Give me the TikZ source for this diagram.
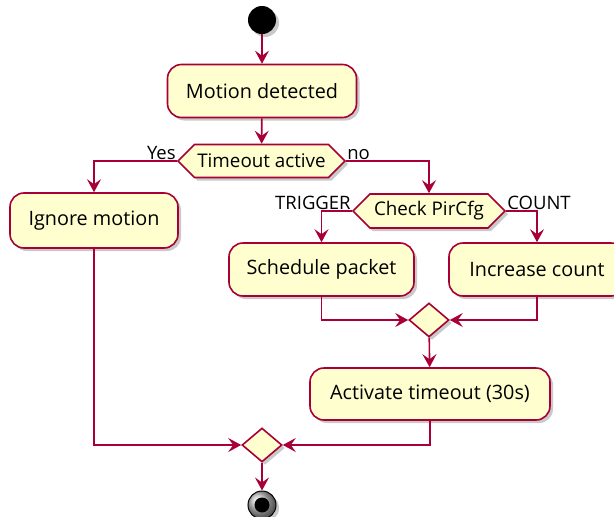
\documentclass[tikz,border=0pt]{standalone}
\usepackage{fontspec}
\setmainfont{Open Sans}
\usetikzlibrary{shapes.symbols,shapes.geometric,arrows.meta,shadows}
\definecolor{pfill}{HTML}{FEFECE}
\definecolor{pline}{HTML}{A80036}
\begin{document}
\begin{tikzpicture}[x=1pt,y=-1pt,
  shadowed/.style={drop shadow={shadow xshift=3pt,shadow yshift=-3pt,opacity=0.3,fill=black!70}},
  act/.style={draw=pline,fill=pfill,line width=1.6pt,rounded corners=14pt,
    font=\fontsize{19.8}{22}\selectfont,shadowed,inner sep=0pt,minimum height=53pt},
  dec/.style={signal,signal to=west and east,signal pointer angle=90,draw=pline,fill=pfill,
    line width=1.6pt,font=\fontsize{18.8}{21}\selectfont,shadowed,inner sep=0pt},
  merge/.style={diamond,draw=pline,fill=pfill,line width=1.6pt,minimum width=40pt,
    minimum height=34pt,inner sep=0pt,shadowed},
  lbl/.style={font=\fontsize{18.5}{20}\selectfont,inner sep=1pt},
  flow/.style={draw=pline,line width=1.6pt,-{Stealth[length=13pt,width=14pt,inset=5pt]}}
]
\useasboundingbox (0,0) rectangle (614,517);
\node[circle,fill=black,minimum size=28pt,inner sep=0pt,shadowed] (start) at (262,20) {};
\node[act,minimum width=189pt] (motion) at (262,91) {Motion detected};
\node[dec,minimum width=167pt,minimum height=33pt] (timeout) at (261.5,161) {Timeout active};
\node[act,minimum width=168pt,minimum height=55pt] (ignore) at (94,220.5) {Ignore motion};
\node[dec,minimum width=152pt,minimum height=34pt] (check) at (429,211) {Check PirCfg};
\node[act,minimum width=185pt] (sched) at (321.5,269.5) {Schedule packet};
\node[act,minimum width=176pt] (incr) at (537,269.5) {Increase count};
\node[merge] (m1) at (429,320) {};
\node[act,minimum width=240pt,minimum height=52pt] (act) at (430,394) {Activate timeout (30s)};
\node[merge] (m2) at (262,445) {};
\node[circle,draw=black,line width=1pt,shading=ball,ball color=gray!50,minimum size=28pt,inner sep=0pt,shadowed] (end) at (262,505) {};
\node[circle,fill=black,minimum size=15pt,inner sep=0pt] (endin) at (end.center) {};
\node[lbl,anchor=south east] (yes) at (timeout.west) {Yes};
\node[lbl,anchor=south west] (no) at (timeout.east) {no};
\node[lbl,anchor=south east] (trig) at (check.west) {TRIGGER};
\node[lbl,anchor=south west] (cnt) at (check.east) {COUNT};
\draw[flow] (start) -- (motion);
\draw[flow] (motion) -- (timeout);
\draw[flow] (timeout.west) -| (ignore.north);
\draw[flow] (timeout.east) -| (check.north);
\draw[flow] (check.west) -| (sched.north);
\draw[flow] (check.east) -| (incr.north);
\draw[flow] (sched.south) |- (m1.west);
\draw[flow] (incr.south) |- (m1.east);
\draw[flow] (m1) -- (act);
\draw[flow] (ignore.south) |- (m2.west);
\draw[flow] (act.south) |- (m2.east);
\draw[flow] (m2) -- (end);
\end{tikzpicture}
\end{document}
